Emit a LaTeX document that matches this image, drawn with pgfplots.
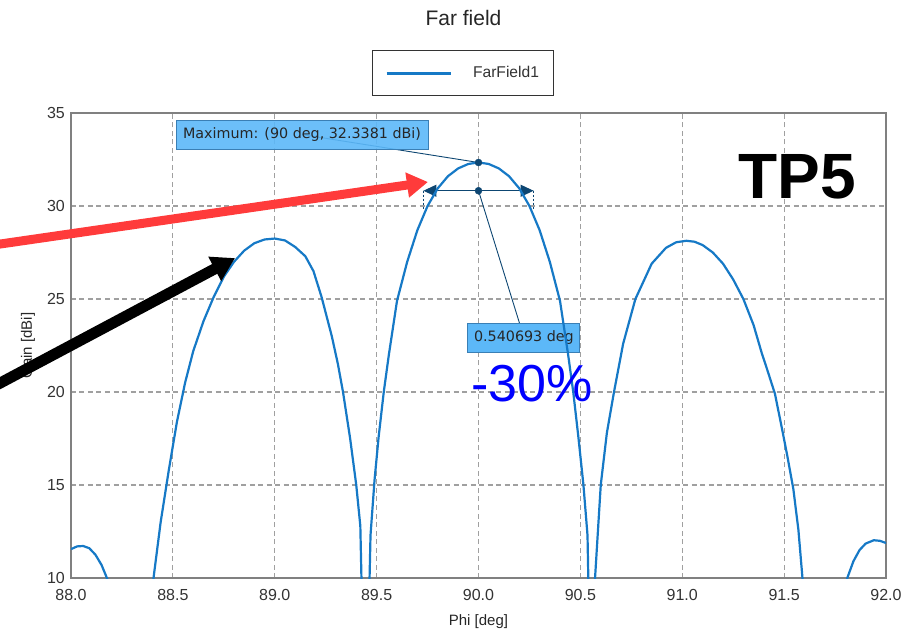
\documentclass[border=0pt]{standalone}
\usepackage{fontspec}
\setmainfont{Liberation Sans}
\newfontfamily\dejavu{DejaVu Sans}
\usepackage{pgfplots}
\usepackage{pgfplotstable}
\pgfplotsset{compat=1.18}
\usetikzlibrary{arrows.meta}
\definecolor{curveblue}{HTML}{1679C6}
\definecolor{boxfill}{HTML}{5CB8F8}
\definecolor{boxdraw}{HTML}{3A7FB5}
\definecolor{navy}{HTML}{0D4672}
\definecolor{gridgray}{HTML}{A0A0A0}
\definecolor{framegray}{HTML}{808080}
\definecolor{redarrow}{HTML}{FF3B3B}

\pgfplotstableread{
x y
88.00 11.55
88.03 11.70
88.06 11.72
88.09 11.60
88.12 11.25
88.15 10.70
88.18 9.90
88.29 0
88.405 10.0
88.44 13.0
88.48 15.8
88.52 18.4
88.56 20.5
88.60 22.2
88.65 23.8
88.70 25.1
88.75 26.2
88.80 27.0
88.85 27.6
88.90 28.0
88.95 28.2
89.00 28.25
89.05 28.15
89.10 27.8
89.15 27.3
89.19 26.5
89.23 25.1
89.28 23.0
89.31 21.5
89.335 20.0
89.37 17.5
89.40 15.0
89.42 12.8
89.445 0
89.47 12.3
89.49 15.3
89.51 17.6
89.535 20.0
89.56 22.0
89.60 24.9
89.65 27.0
89.70 28.7
89.75 30.0
89.80 30.95
89.85 31.6
89.90 32.02
89.95 32.26
90.00 32.34
90.05 32.26
90.10 32.02
90.15 31.6
90.20 30.95
90.25 30.0
90.30 28.7
90.35 27.0
90.40 24.9
90.44 22.0
90.465 20.0
90.49 17.6
90.515 15.0
90.535 12.3
90.556 0
90.572 10.0
90.60 15.0
90.63 17.8
90.665 20.0
90.71 22.6
90.77 25.0
90.85 26.9
90.92 27.75
90.97 28.05
91.02 28.13
91.06 28.08
91.10 27.9
91.15 27.5
91.20 26.9
91.25 26.05
91.30 25.0
91.35 23.6
91.39 22.1
91.42 21.1
91.455 19.9
91.49 18.0
91.515 16.6
91.545 14.8
91.57 12.6
91.59 10.0
91.70 0
91.81 10.0
91.84 10.9
91.87 11.5
91.90 11.85
91.94 12.03
91.97 12.0
92.00 11.88
}\farfield

\begin{document}
\begin{tikzpicture}
\begin{axis}[
  scale only axis, width=815pt, height=465pt,
  xmin=88, xmax=92, ymin=10, ymax=35,
  xtick={88,88.5,89,89.5,90,90.5,91,91.5,92},
  ytick={10,15,20,25,30,35},
  /pgf/number format/assume math mode=true,
  major tick length=0pt,
  tick label style={font=\fontsize{16}{19}\selectfont, text=black!80},
  xticklabel style={/pgf/number format/fixed, /pgf/number format/fixed zerofill, /pgf/number format/precision=1, inner ysep=0pt, yshift=-11pt},
  yticklabel style={inner xsep=0pt, xshift=-6pt},
  grid=major,
  major grid style={gridgray, line width=1.2pt, dash pattern=on 5pt off 3.5pt},
  axis line style={framegray, line width=1.8pt},
  title={Far field},
  title style={at={(axis description cs:0.4816,1.1914)}, anchor=center, font=\fontsize{21}{25}\selectfont, text=black!85},
  xlabel={Phi [deg]},
  ylabel={Gain [dBi]},
  xlabel style={at={(axis description cs:0.5,-0.0946)}, anchor=center, font=\fontsize{15}{18}\selectfont, text=black!85},
  ylabel style={at={(axis description cs:-0.0528,0.5)}, anchor=center, font=\fontsize{15}{18}\selectfont, text=black!85},
  legend style={at={(axis description cs:0.481,1.086)}, anchor=center, draw=black!80, line width=1.2pt,
    font=\fontsize{15.6}{18}\selectfont, text=black!80, inner xsep=12.5pt, inner ysep=14pt, column sep=19pt},
  legend image code/.code={\draw[#1, line width=3pt] (5pt,0pt) -- (69pt,0pt);},
]
% annotation boxes and connectors (drawn beneath the curve)
\draw[navy, line width=0.9pt] (axis cs:89.134,33.84) -- (axis cs:90,32.3381);
\node[fill=boxfill, fill opacity=0.9, text opacity=1, draw=boxdraw, line width=1pt, minimum width=252pt, minimum height=29pt, inner sep=0pt,
  font=\dejavu\fontsize{14.3}{17}\selectfont, text=black!85] at (axis cs:89.134,33.84) {Maximum: (90 deg, 32.3381 dBi)};
\draw[navy, line width=0.9pt] (axis cs:90,30.82) -- (axis cs:90.223,22.93);
\node[fill=boxfill, draw=boxdraw, line width=1pt, minimum width=112pt, minimum height=29pt, inner sep=0pt,
  font=\dejavu\fontsize{14.3}{17}\selectfont, text=black!85] at (axis cs:90.223,22.93) {0.540693 deg};
\draw[navy, line width=0.9pt, dash pattern=on 2pt off 2pt] (axis cs:89.7297,30.82) -- (axis cs:89.7297,29.75);
\draw[navy, line width=0.9pt, dash pattern=on 2pt off 2pt] (axis cs:90.2703,30.82) -- (axis cs:90.2703,29.75);
\draw[navy, line width=1pt, {Triangle[length=13pt,width=12pt]}-{Triangle[length=13pt,width=12pt]}] (axis cs:89.7297,30.82) -- (axis cs:90.2703,30.82);

\addplot[curveblue, line width=2.2pt, line join=round] table[x=x, y=y] {\farfield};
\addlegendentry{FarField1}

\addplot[only marks, mark=*, mark size=3.5pt, navy, forget plot] coordinates {(90,32.3381) (90,30.82)};

\node[font=\fontsize{64}{70}\selectfont\bfseries] at (axis cs:91.563,31.56) {TP5};
\node[font=\fontsize{52}{60}\selectfont, text={rgb,1:red,0;green,0;blue,1}] at (axis cs:90.263,20.43) {-30\%};

\coordinate (rs) at (axis cs:87.6025,27.876);
\coordinate (rt) at (axis cs:89.752,31.29);
\coordinate (bs) at (axis cs:87.6025,20.19);
\coordinate (bt) at (axis cs:88.805,27.20);
\end{axis}
\draw[redarrow, line width=9pt, -{Triangle[length=21pt,width=24pt]}] (rs) -- (rt);
\draw[black, line width=11pt, -{Triangle[length=23pt,width=26pt]}] (bs) -- (bt);
\pgfresetboundingbox
\path[use as bounding box] (-71pt,-57pt) rectangle (841pt,578pt);
\end{tikzpicture}
\end{document}
